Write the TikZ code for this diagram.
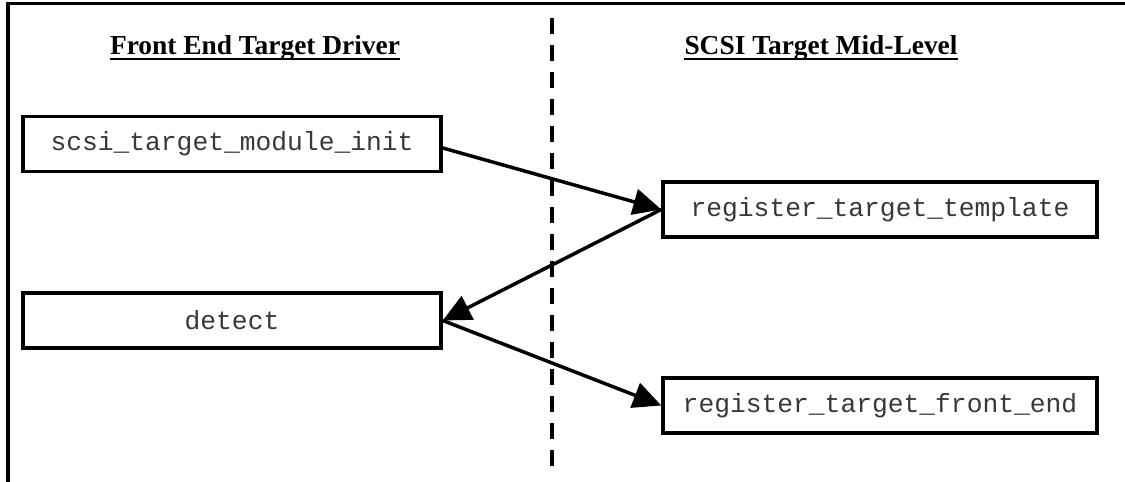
\documentclass[tikz,border=0pt]{standalone}
\usepackage{fontspec}
\setmainfont{Liberation Serif}
\setmonofont{Liberation Mono}
\usetikzlibrary{arrows.meta}
\tikzset{
  fn/.style={draw, line width=3.5pt, minimum height=55pt, inner sep=0pt,
    text=black!78, font=\fontsize{26.3}{30}\selectfont\ttfamily},
  head/.style={inner sep=0pt, anchor=base, font=\fontsize{27.4}{32}\selectfont\bfseries},
  call/.style={line width=3.5pt, -{Triangle[length=28pt,width=26pt]}},
  uline/.style={line width=2pt},
  divider/.style={line width=4pt, dash pattern=on 16pt off 11pt},
  frame/.style={line width=3.5pt}
}
\begin{document}
\begin{tikzpicture}[x=1pt,y=1pt]
\useasboundingbox (0,0) rectangle (1125,482);
% frame (top and left edges)
\coordinate (fb) at (8,-5);
\coordinate (ftl) at (8,478.5);
\coordinate (ftr) at (1130,478.5);
\draw[frame] (fb) -- (ftl) -- (ftr);
% divider
\coordinate (dt) at (552,464);
\coordinate (db) at (552,16);
\draw[divider] (dt) -- (db);
% headings
\node[head] (h1) at (255,427) {Front End Target Driver};
\node[head] (h2) at (821,427) {SCSI Target Mid-Level};
\draw[uline] ([yshift=-4pt]h1.base west) -- ([yshift=-4pt]h1.base east);
\draw[uline] ([yshift=-4pt]h2.base west) -- ([yshift=-4pt]h2.base east);
% boxes
\node[fn, minimum width=418pt] (init) at (232,338) {scsi\_target\_module\_init};
\node[fn, minimum width=418pt] (detect) at (232,161.5) {detect};
\node[fn, minimum width=434pt] (tmpl) at (880,272.5) {register\_target\_template};
\node[fn, minimum width=434pt] (fe) at (880,76.5) {register\_target\_front\_end};
% calls
\draw[call] ([yshift=-4pt]init.east) -- (tmpl.west);
\draw[call] (tmpl.west) -- (detect.east);
\draw[call] (detect.east) -- (fe.west);
\end{tikzpicture}
\end{document}
